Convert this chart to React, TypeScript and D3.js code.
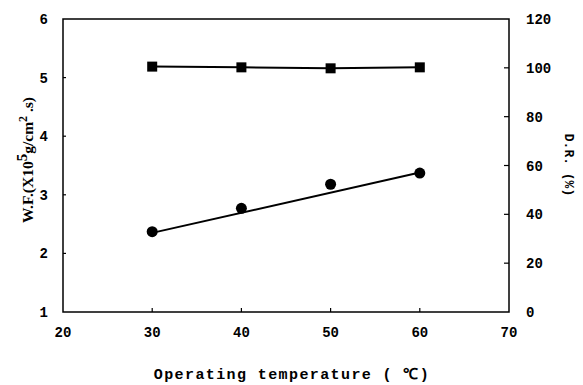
import React from "react";
import * as d3 from "d3";

const temps = [30, 40, 50, 60];
const wfValues = [2.37, 2.77, 3.18, 3.37];
const drValues = [100.5, 100.2, 99.8, 100.2];
const fitTemps = [30, 60];
const fitWf = [2.35, 3.38];

const xTicks = [20, 30, 40, 50, 60, 70];
const leftTicks = [1, 2, 3, 4, 5, 6];
const rightTicks = [0, 20, 40, 60, 80, 100, 120];

const W = 583;
const H = 385;
const margin = { left: 63, right: 74, top: 19, bottom: 73 };

export default function App() {
  const x = d3.scaleLinear().domain([20, 70]).range([margin.left, W - margin.right]);
  const yL = d3.scaleLinear().domain([1, 6]).range([H - margin.bottom, margin.top]);
  const yR = d3.scaleLinear().domain([0, 120]).range([H - margin.bottom, margin.top]);

  const wfLine = d3.line<number>().x((d, i) => x(fitTemps[i])).y((d) => yL(d));
  const drLine = d3.line<number>().x((d, i) => x(temps[i])).y((d) => yR(d));

  const x0 = x(20), x1 = x(70), y0 = yL(1), y1 = yL(6);
  const tickFont = "'Liberation Mono', 'DejaVu Sans Mono', monospace";

  return (
    <svg width={W} height={H} style={{ position: "absolute", left: 0, top: 0, background: "#fff" }}>
      <rect x={x0} y={y1} width={x1 - x0} height={y0 - y1} fill="none" stroke="#000" strokeWidth={1.5} />

      {xTicks.map((t) => (
        <g key={"x" + t}>
          {t > 20 && t < 70 && <line x1={x(t)} x2={x(t)} y1={y0} y2={y0 - 4} stroke="#000" strokeWidth={1.2} />}
          <text x={x(t)} y={337} textAnchor="middle" fontFamily={tickFont} fontWeight="bold" fontSize={14}>{t}</text>
        </g>
      ))}

      {leftTicks.map((t) => (
        <g key={"l" + t}>
          {t > 1 && t < 6 && <line x1={x0} x2={x0 + 3} y1={yL(t)} y2={yL(t)} stroke="#000" strokeWidth={1.2} />}
          <text x={48} y={yL(t) + 5} textAnchor="end" fontFamily={tickFont} fontWeight="bold" fontSize={14}>{t}</text>
        </g>
      ))}

      {rightTicks.map((t) => (
        <g key={"r" + t}>
          {t > 0 && t < 120 && <line x1={x1} x2={x1 - 5} y1={yR(t)} y2={yR(t)} stroke="#000" strokeWidth={1.2} />}
          <text x={526} y={yR(t) + 5} textAnchor="start" fontFamily={tickFont} fontWeight="bold" fontSize={14}>{t}</text>
        </g>
      ))}

      <path d={wfLine(fitWf) || ""} fill="none" stroke="#000" strokeWidth={2} />
      <path d={drLine(drValues) || ""} fill="none" stroke="#000" strokeWidth={2} />

      {wfValues.map((v, i) => (
        <circle key={"c" + i} cx={x(temps[i])} cy={yL(v)} r={5.5} fill="#000" />
      ))}
      {drValues.map((v, i) => (
        <rect key={"s" + i} x={x(temps[i]) - 5} y={yR(v) - 5} width={10} height={10} fill="#000" />
      ))}

      <text x={292} y={379} textAnchor="middle" fontFamily={tickFont} fontWeight="bold" fontSize={15} letterSpacing={1.4}>
        Operating temperature ( ℃)
      </text>

      <text transform="translate(33,160) rotate(-90)" textAnchor="middle" fontFamily="'Liberation Serif', serif" fontWeight="bold" fontSize={15.5}>
        W.F.(X10<tspan dy={-6} fontSize={15}>5</tspan><tspan dy={6}>g/cm</tspan><tspan dy={-6} fontSize={12}>2</tspan><tspan dy={6}> .s)</tspan>
      </text>

      <text transform="translate(565,165) rotate(90)" textAnchor="middle" fontFamily={tickFont} fontWeight="bold" fontSize={13}>
        D.R. (%)
      </text>
    </svg>
  );
}
